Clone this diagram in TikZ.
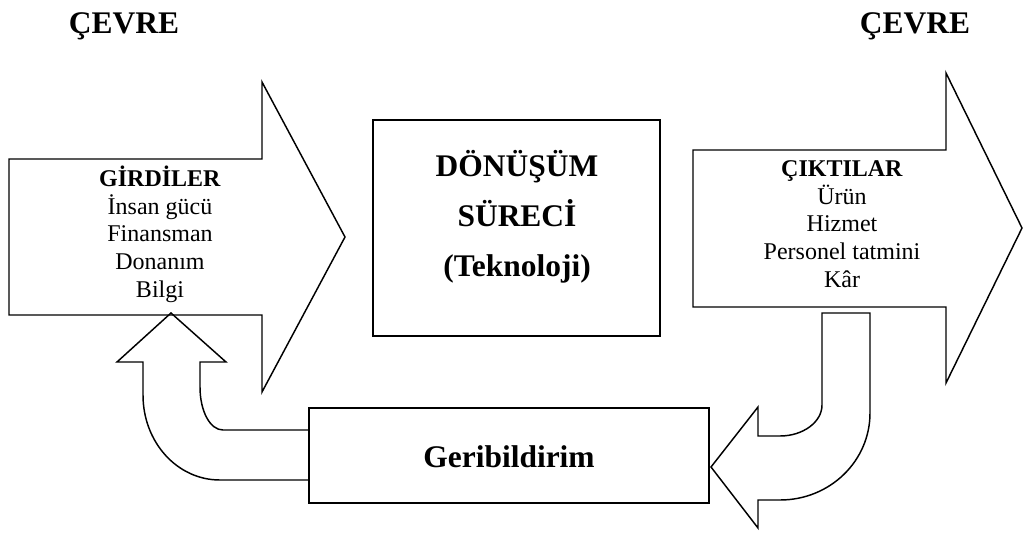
\documentclass[tikz,border=0pt]{standalone}
\usepackage{fontspec}
\setmainfont{Liberation Serif}
\newcommand{\listfont}{\fontsize{18}{20.7}\selectfont}
\newcommand{\headfont}{\fontsize{23.6}{37.5}\selectfont\bfseries}

\tikzset{
  blockline/.style={draw, line width=1.1pt, line join=miter},
  listtext/.style={align=center, font=\listfont, anchor=base, inner sep=0pt},
  headtext/.style={align=center, font=\headfont, anchor=base, inner sep=0pt}
}

\begin{document}
\begin{tikzpicture}[x=0.75pt, y=-0.75pt]
\useasboundingbox (0,0) rectangle (1024,532);

% environment labels
\node [headtext] (cevreL) at (124,33) {ÇEVRE};
\node [headtext] (cevreR) at (915,33) {ÇEVRE};

% input arrow
\draw [blockline] (9,159) -- (262,159) -- (262,82) -- (345,237) -- (262,392) -- (262,315) -- (9,315) -- cycle ;
\node [listtext] (girdi) at (160,297) {\textbf{GİRDİLER}\\İnsan gücü\\Finansman\\Donanım\\Bilgi};

% transformation box
\draw [blockline] (373,120) rectangle (660,336) ;
\node [headtext] (surec) at (517,276) {DÖNÜŞÜM\\SÜRECİ\\(Teknoloji)};

% output arrow
\draw [blockline] (693,150) -- (946,150) -- (946,73) -- (1022,228) -- (946,383) -- (946,307) -- (693,307) -- cycle ;
\node [listtext] (cikti) at (842,287) {\textbf{ÇIKTILAR}\\Ürün\\Hizmet\\Personel tatmini\\Kâr};

% feedback box
\draw [blockline] (309,408) rectangle (709,503) ;
\node [headtext] (geri) at (509,467) {Geribildirim};

% curved arrow: outputs -> feedback
\draw [blockline] (822,313) -- (822,405) .. controls (822,422) and (803,436) .. (780,436)
  -- (758,436) -- (758,407) -- (711,467) -- (758,528) -- (758,500) -- (780,500)
  .. controls (830,500) and (870,461) .. (870,413) -- (870,313) -- cycle ;

% curved arrow: feedback -> inputs
\draw [blockline] (309,430) -- (223,430) .. controls (210,430) and (200,411) .. (200,387)
  -- (200,362) -- (226,362) -- (171,313) -- (117,362) -- (143,362) -- (143,395)
  .. controls (143,442) and (177,480) .. (220,480) -- (309,480) ;
\end{tikzpicture}
\end{document}
